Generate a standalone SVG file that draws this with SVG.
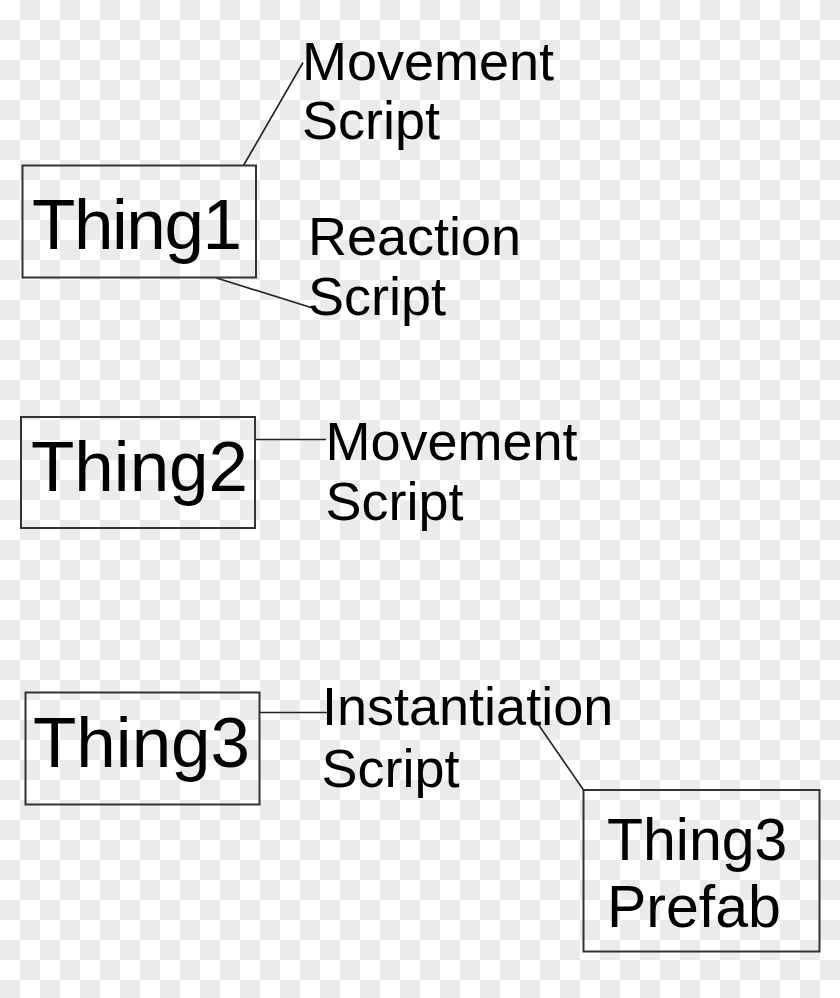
<svg xmlns="http://www.w3.org/2000/svg" width="840" height="998" viewBox="0 0 840 998">
<defs>
<pattern id="checker" x="0" y="0" width="40" height="40" patternUnits="userSpaceOnUse">
<rect x="0" y="0" width="40" height="40" fill="#ffffff"/>
<rect x="20" y="0" width="20" height="20" fill="#ebebeb"/>
<rect x="0" y="20" width="20" height="20" fill="#ebebeb"/>
</pattern>
<style>
.box{fill:none;stroke:#333333;stroke-width:2}
.big{font-family:"Liberation Sans",Arial,sans-serif;font-size:71px;fill:#000000}
.lbl{font-family:"Liberation Sans",Arial,sans-serif;font-size:54px;fill:#000000}
.pre{font-family:"Liberation Sans",Arial,sans-serif;font-size:59px;fill:#000000}
.con{fill:none;stroke:#222222;stroke-width:1.6}
</style>
</defs>
<rect x="0" y="0" width="840" height="998" fill="url(#checker)"/>
<g id="connectors">
<line class="con" x1="243.5" y1="165.5" x2="303" y2="62.5"/>
<line class="con" x1="216.5" y1="278" x2="311" y2="307.5"/>
<line class="con" x1="255" y1="439.5" x2="326" y2="439.5"/>
<line class="con" x1="259.5" y1="712.5" x2="327" y2="712.5"/>
<line class="con" x1="538" y1="724" x2="583.5" y2="790"/>
</g>
<g id="thing1">
<rect class="box" x="22.5" y="165.5" width="233.5" height="112"/>
<text class="big" x="32" y="248.5" textLength="210">Thing1</text>
</g>
<g id="movement1">
<text class="lbl" x="302" y="79.5">Movement</text>
<text class="lbl" x="302" y="139">Script</text>
</g>
<g id="reaction1">
<text class="lbl" x="308" y="254.5">Reaction</text>
<text class="lbl" x="308" y="315">Script</text>
</g>
<g id="thing2">
<rect class="box" x="21" y="417" width="234" height="111"/>
<text class="big" x="31" y="491">Thing2</text>
</g>
<g id="movement2">
<text class="lbl" x="325.5" y="459.5">Movement</text>
<text class="lbl" x="325.5" y="519.5">Script</text>
</g>
<g id="thing3">
<rect class="box" x="25.5" y="692.5" width="234" height="112"/>
<text class="big" x="33" y="766.5">Thing3</text>
</g>
<g id="instantiation">
<text class="lbl" x="322" y="725">Instantiation</text>
<text class="lbl" x="321.5" y="786.5">Script</text>
</g>
<g id="prefab">
<rect class="box" x="583.5" y="790" width="236" height="161.5"/>
<text class="pre" x="607" y="859.5">Thing3</text>
<text class="pre" x="607" y="926.5">Prefab</text>
</g>
</svg>
